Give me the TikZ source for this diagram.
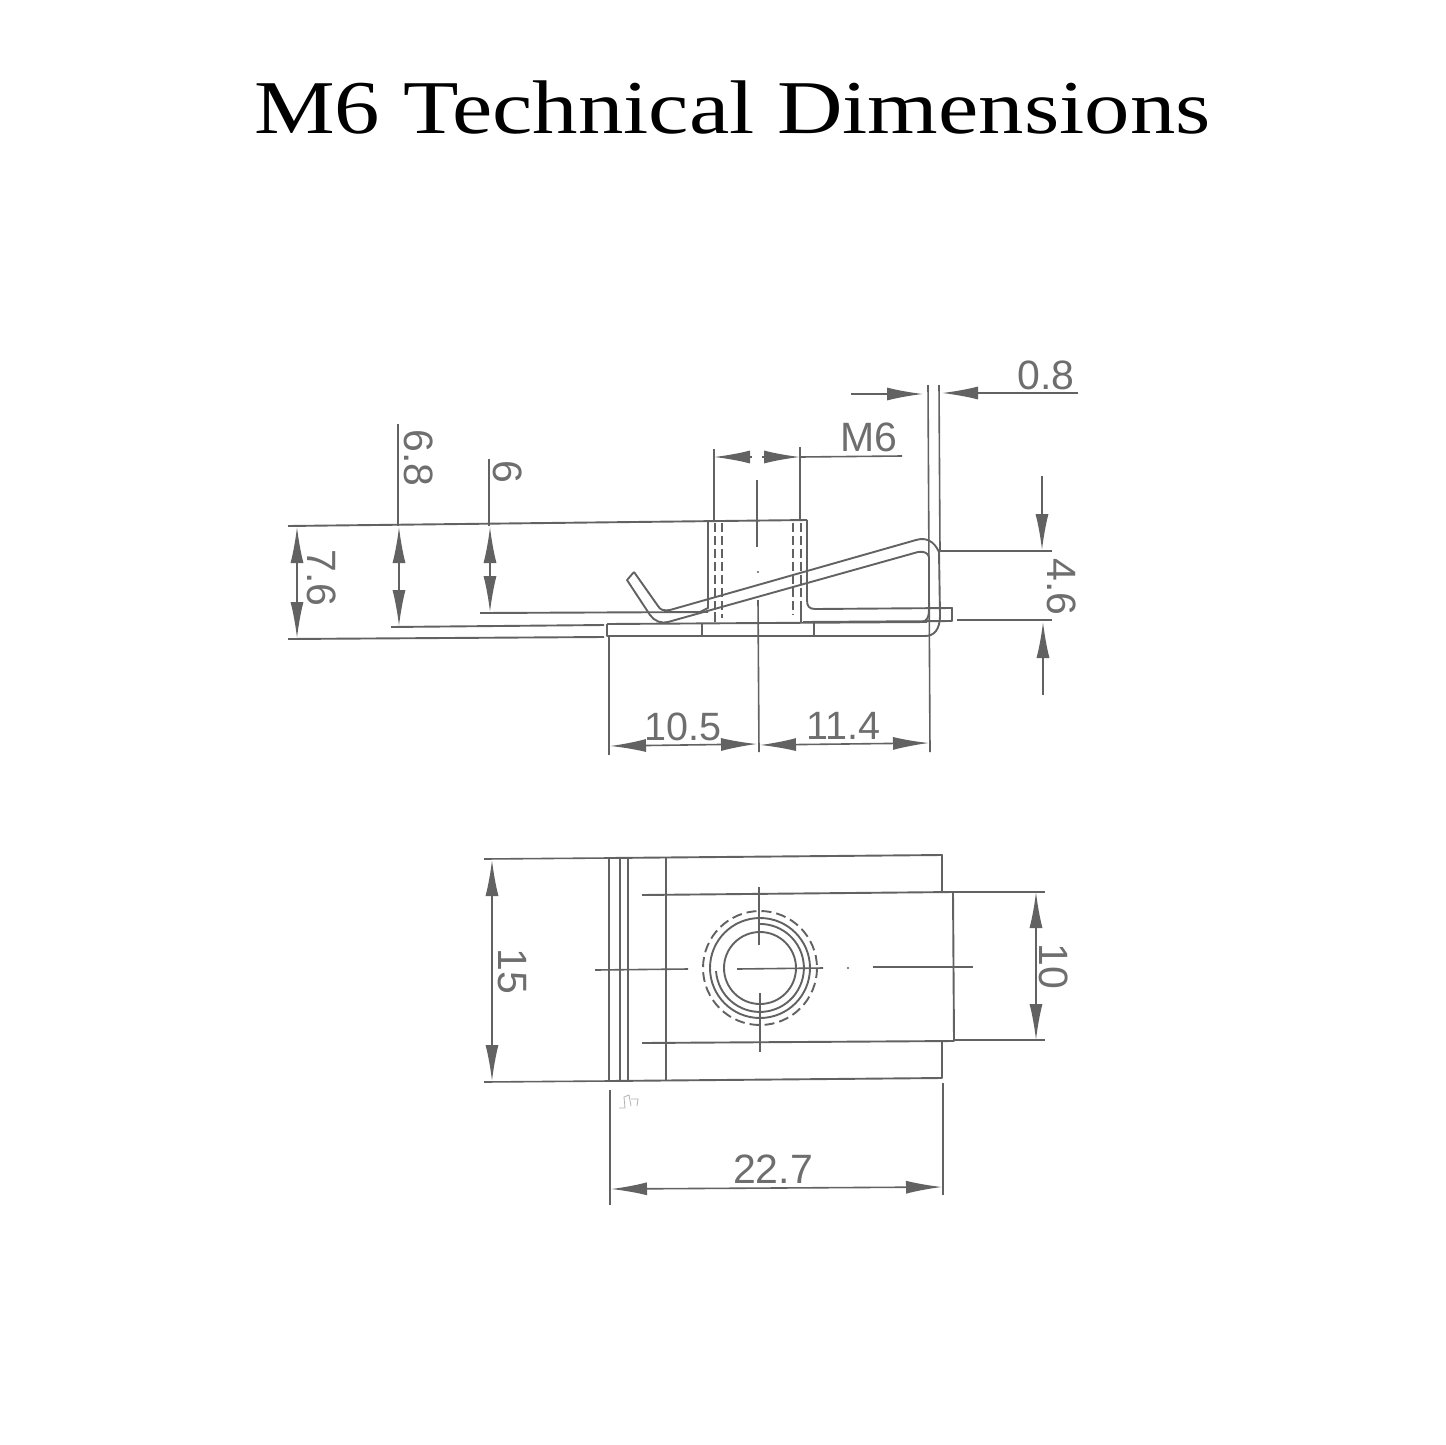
\documentclass[tikz,border=0pt]{standalone}
\usepackage{graphicx}
\usepackage{fontspec}
\setmainfont{Liberation Serif}
\newfontfamily\lblfont{Liberation Sans}
\usetikzlibrary{arrows.meta}
\definecolor{ink}{RGB}{98,98,98}
\definecolor{dimtext}{RGB}{110,110,110}
\tikzset{
  part/.style={draw=ink,line width=1.9pt,line join=round},
  hidden/.style={part,dash pattern=on 9pt off 4pt},
  thin part/.style={draw=ink,line width=1.6pt},
  tip/.style={thin part,-{Latex[length=36pt,width=13pt,fill=ink]}},
  both/.style={thin part,{Latex[length=36pt,width=13pt,fill=ink]}-{Latex[length=36pt,width=13pt,fill=ink]}},
  lbl/.style={text=dimtext,inner sep=0pt,font=\lblfont\fontsize{41}{43}\selectfont},
  lbl small/.style={text=dimtext,inner sep=0pt,font=\lblfont\fontsize{39.5}{42}\selectfont},
  vlbl/.style={lbl,rotate=-90},
}
\begin{document}
\begin{tikzpicture}[x=1pt,y=-1pt]
\useasboundingbox (0,0) rectangle (1445,1445);
\fill[white] (0,0) rectangle (1445,1445);
\node[anchor=base,inner sep=0pt,font=\fontsize{76}{80}\selectfont] (title) at (732.5,133) {\scalebox{1.194}[1]{M6 Technical Dimensions}};

% ---- side view: outlines
\draw[part] (288,526) -- (807,520);
\draw[part] (708,522) -- (708,608) -- (700,612);
\draw[part] (807,520) -- (807,600) .. controls (807,606) and (809,609) .. (815,609) -- (952,608) -- (952,621) -- (803,622);
\draw[part] (480,613) -- (708,612);
\draw[part] (391,627) -- (604,625);
\draw[part] (288,639) -- (604,637);
\draw[part] (607,624) -- (927,622);
\draw[part] (607,624) -- (607,636) -- (925,636) .. controls (934,636) and (940,630) .. (940,615);
\draw[part] (702,624) -- (702,636);
\draw[part] (814,623) -- (814,636);
\draw[part] (715,612) -- (715,622);
\draw[part] (801,610) -- (801,622);
\draw[hidden] (715,523) -- (715,612);
\draw[hidden] (722,523) -- (722,618);
\draw[hidden] (793,523) -- (793,615);
\draw[hidden] (801,523) -- (801,610);
% spring clip
\draw[part] (634,572) -- (627,580) -- (650,615) .. controls (654,621) and (662,624) .. (668,622)
  -- (918,552) .. controls (924,551) and (928,553) .. (929,557) -- (929,610) .. controls (929,617) and (927,621) .. (922,622);
\draw[part] (634,572) -- (658,606) .. controls (660,610) and (664,611) .. (670,610)
  -- (916,540) .. controls (926,537) and (934,541) .. (939,552) -- (940,615);

% ---- side view: centre line
\draw[thin part] (757,480) -- (757,547);
\fill[ink] (758,572) circle (1.2pt);
\draw[thin part] (758,600) -- (759,752);

% ---- side view: extension lines
\draw[thin part] (714,449) -- (714,520);
\draw[thin part] (800,447) -- (800,520);
\draw[thin part] (928,385) -- (930,752);
\draw[thin part] (939,385) -- (940,552);
\draw[thin part] (940,551) -- (1052,551);
\draw[thin part] (957,620) -- (1052,620);
\draw[thin part] (398,424) -- (398,526);
\draw[thin part] (489,459) -- (489,526);
\draw[thin part] (609,636) -- (609,755);

% ---- side view: dimensions
\coordinate (m6a) at (714,457);
\coordinate (m6d) at (800,457);
\draw[tip] (752,457) -- (m6a);
\draw[tip] (762,457) -- (m6d);
\draw[thin part] (m6d) -- (902,456);
\node[lbl] (lm6) at (869,437) {M6};

\coordinate (oa) at (923,394); \coordinate (ob) at (942,393);
\draw[tip] (851,394) -- (oa);
\draw[tip] (1078,393) -- (ob);
\node[lbl] (l08) at (1046,375) {0.8};

\coordinate (fa) at (1042,550); \coordinate (fb) at (1043,622);
\draw[tip] (1042,476) -- (fa);
\draw[tip] (1043,695) -- (fb);
\node[vlbl] (l46) at (1062,587) {4.6};

\coordinate (sa) at (297,527); \coordinate (sb) at (297,638);
\draw[both] (sa) -- (sb);
\node[vlbl] (l76) at (322,578) {7.6};
\coordinate (ea) at (399,527); \coordinate (eb) at (399,626);
\draw[both] (ea) -- (eb);
\node[vlbl] (l68) at (419,458) {6.8};
\coordinate (xa) at (490,527); \coordinate (xb) at (490,612);
\draw[both] (xa) -- (xb);
\node[vlbl] (l6) at (508,472) {6};

\coordinate (ha) at (610,746); \coordinate (hb) at (757,744);
\coordinate (hc) at (760,745); \coordinate (hd) at (929,743);
\draw[both] (ha) -- (hb);
\draw[both] (hc) -- (hd);
\node[lbl small] (l105) at (683,727) {10.5};
\node[lbl small] (l114) at (843,726) {11.4};

% ---- plan view: outlines
\draw[part] (942,892) -- (942,855) -- (609,858) -- (609,1081) -- (942,1078) -- (942,1042);
\draw[part] (620,858) -- (620,1081);
\draw[part] (628,858) -- (628,1081);
\draw[part] (666,858) -- (666,1081);
\draw[part] (642,895) -- (953,892) -- (954,1041) -- (642,1043);
% hole
\coordinate (c) at (760,968);
\draw[part] (c) circle (36);
\draw[part] (c) circle (50);
\draw[part] (716,971) arc (176:-90:44);
\draw[hidden,dash pattern=on 10pt off 5pt] (c) circle (57);
% centre lines
\draw[thin part] (759,887) -- (759,945);
\draw[thin part] (760,993) -- (760,1052);
\draw[thin part] (595,970) -- (688,969);
\draw[thin part] (737,969) -- (823,968);
\fill[ink] (848,968) circle (1.2pt);
\draw[thin part] (873,967) -- (973,967);
% small mark
\draw[gray!60,line width=.8pt] (619,1108) -- (625,1108) -- (624,1097) -- (629,1095) -- (631,1106);
\draw[gray!60,line width=.8pt] (631,1099) -- (638,1099) -- (637,1106);

% ---- plan view: dimensions
\draw[thin part] (484,859) -- (609,858);
\draw[thin part] (484,1082) -- (609,1081);
\coordinate (wa) at (492,860); \coordinate (wb) at (492,1081);
\draw[both] (wa) -- (wb);
\node[vlbl] (l15) at (512,971) {15};

\draw[thin part] (953,892) -- (1045,892);
\draw[thin part] (954,1040) -- (1045,1040);
\coordinate (ta) at (1036,892); \coordinate (tb) at (1036,1040);
\draw[both] (ta) -- (tb);
\node[vlbl] (l10) at (1054,966) {10};

\draw[thin part] (610,1090) -- (610,1205);
\draw[thin part] (943,1083) -- (943,1195);
\coordinate (la) at (611,1189); \coordinate (lb) at (942,1187);
\draw[both] (la) -- (lb);
\node[lbl] (l227) at (773,1169) {22.7};
\end{tikzpicture}
\end{document}
